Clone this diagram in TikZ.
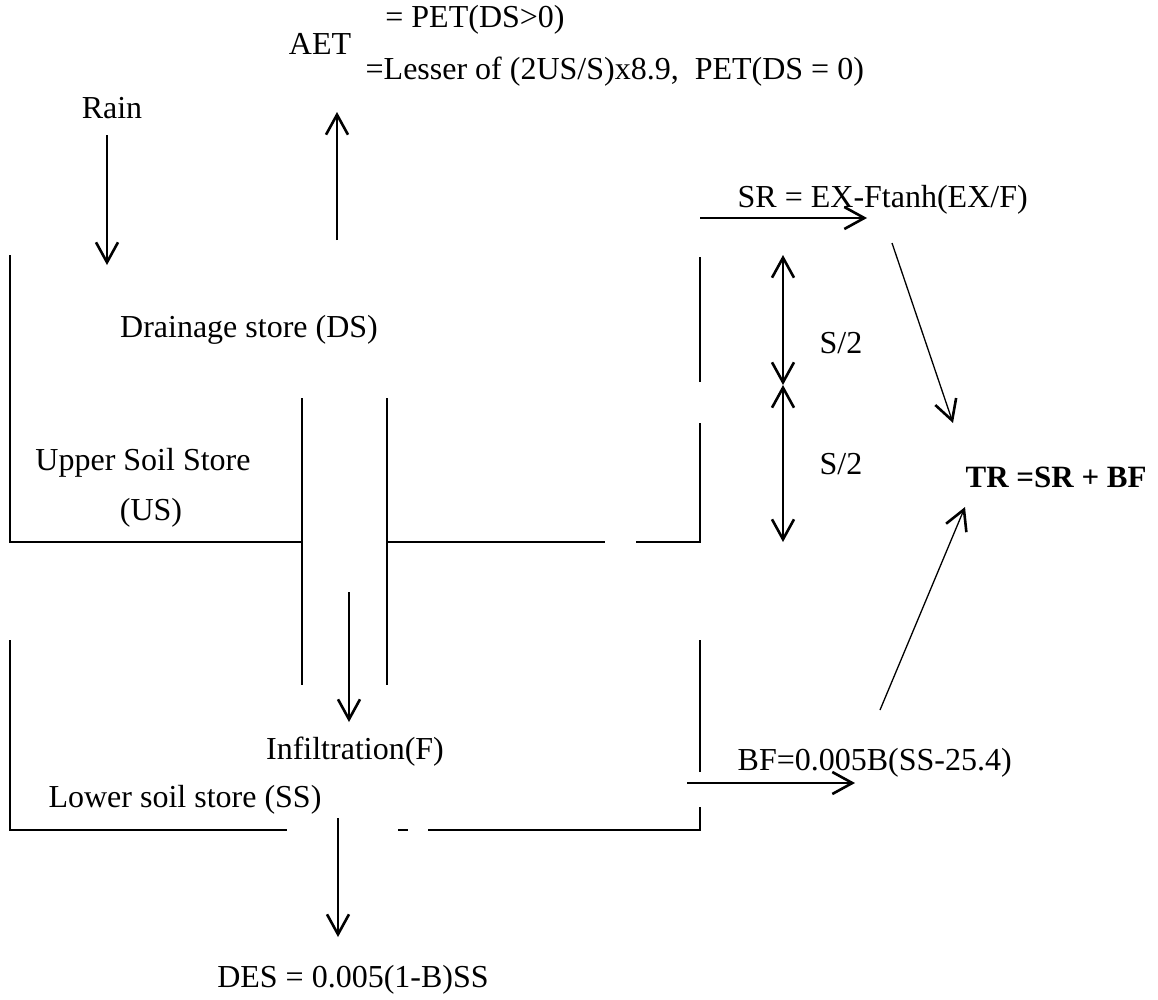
\documentclass[tikz,border=0pt]{standalone}
\usepackage{fontspec}
\setmainfont{Liberation Serif}
\usetikzlibrary{arrows.meta}
\begin{document}
\begin{tikzpicture}[x=1pt,y=-1pt, line width=1.3pt,
  lbl/.style={font=\fontsize{32}{38}\selectfont, inner sep=0pt},
  tip/.tip={Straight Barb[length=20pt,width=22pt,line width=2.6pt]},
  flow/.style={-tip},
  dflow/.style={tip-tip}]
\useasboundingbox (0,0) rectangle (1158,999);
% texts
\node[lbl] (pet) at (475,20) {= PET(DS>0)};
\node[lbl] (aet) at (320,44) {AET};
\node[lbl, anchor=west] (lesser) at (365,72) {=Lesser of (2US/S)x8.9,\ \ PET(DS = 0)};
\node[lbl] (rain) at (112,108) {Rain};
\node[lbl] (ds) at (249,330) {Drainage store (DS)};
\node[lbl] (us) at (143,463) {Upper Soil Store};
\node[lbl] (usb) at (151,513) {(US)};
\node[lbl] (inf) at (355,752) {Infiltration(F)};
\node[lbl] (ss) at (185,800) {Lower soil store (SS)};
\node[lbl] (des) at (353,980) {DES = 0.005(1-B)SS};
\node[lbl, anchor=west] (sr) at (737,200) {SR = EX-Ftanh(EX/F)};
\node[lbl] (s2a) at (841,343) {S/2};
\node[lbl] (s2b) at (841,464) {S/2};
\node[lbl, font=\fontsize{31}{37}\selectfont\bfseries, anchor=west] (tr) at (965,477) {TR =SR + BF};
\node[lbl, anchor=west] (bf) at (737,763) {BF=0.005B(SS-25.4)};
% arrow end points
\coordinate (r1) at (107,135); \coordinate (r2) at (107,265);
\coordinate (a1) at (337,240); \coordinate (a2) at (337,112);
\coordinate (sr1) at (700,218); \coordinate (sr2) at (867,218);
\coordinate (m1) at (783,255); \coordinate (m2) at (783,385); \coordinate (m3) at (783,542);
\coordinate (t1) at (892,243); \coordinate (t2) at (953,423);
\coordinate (b1) at (880,710); \coordinate (b2) at (965,507);
\coordinate (bf1) at (687,783); \coordinate (bf2) at (855,783);
\coordinate (f1) at (349,592); \coordinate (f2) at (349,722);
\coordinate (d1) at (338,818); \coordinate (d2) at (338,937);
% upper box
\draw (10,255) -- (10,542) -- (302,542);
\draw (387,542) -- (605,542);
\draw (636,542) -- (700,542) -- (700,423);
\draw (700,382) -- (700,257);
% channel
\draw (302,398) -- (302,685);
\draw (387,398) -- (387,685);
% lower box
\draw (10,640) -- (10,830) -- (287,830);
\draw (398,830) -- (408,830);
\draw (428,830) -- (700,830) -- (700,807);
\draw (700,772) -- (700,640);
% arrows
\draw[flow] (r1) -- (r2);
\draw[flow] (a1) -- (a2);
\draw[flow] (sr1) -- (sr2);
\draw[dflow] (m1) -- (m2);
\draw[dflow] (m2) -- (m3);
\draw[flow] (t1) -- (t2);
\draw[flow] (b1) -- (b2);
\draw[flow] (bf1) -- (bf2);
\draw[flow] (f1) -- (f2);
\draw[flow] (d1) -- (d2);
\end{tikzpicture}
\end{document}
